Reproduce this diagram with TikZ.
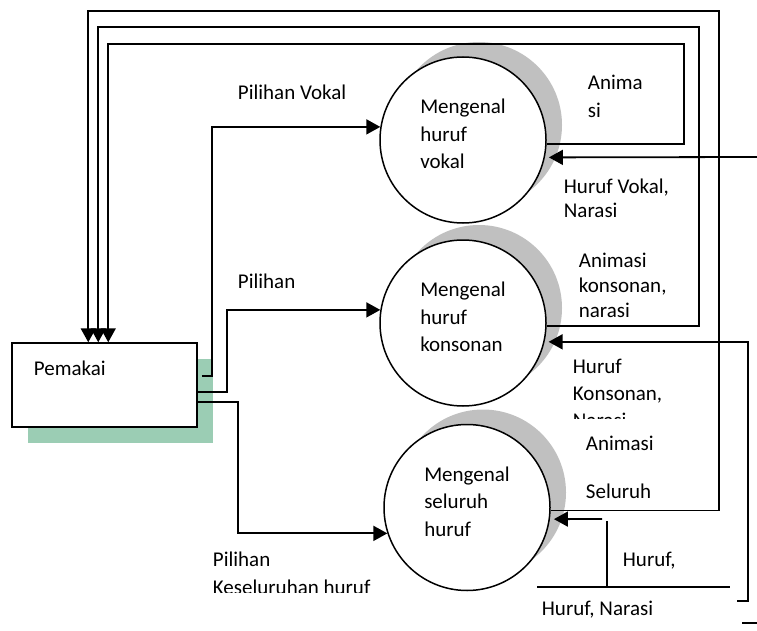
\documentclass[tikz,border=0pt]{standalone}
\usepackage{fontspec}
\setmainfont{Carlito}
\usetikzlibrary{arrows.meta,calc,shadows}
\definecolor{abu}{RGB}{192,192,192}
\definecolor{hijau}{RGB}{155,205,180}
\tikzset{
  entitas/.style={draw, line width=1.5pt, fill=white, minimum width=185pt, minimum height=84pt,
    general shadow={shadow xshift=16pt, shadow yshift=-16pt, fill=hijau, draw=none}},
  proses/.style={circle, draw, line width=1.5pt, fill=white, minimum size=166pt, inner sep=0pt,
    general shadow={shadow xshift=16pt, shadow yshift=15pt, fill=abu, draw=none}},
  teks/.style={font=\fontsize{21}{25}\selectfont, inner sep=0pt, align=left, anchor=base west},
  isi/.style={font=\fontsize{21}{27.5}\selectfont, inner sep=0pt, align=left}
}
\begin{document}
\begin{tikzpicture}[x=1pt, y=-1pt, >={Triangle[length=14pt,width=15pt]}, line width=1.8pt]
\useasboundingbox (0,0) rectangle (757,631);

% entitas luar
\node[entitas] (pemakai) at (104.5,385) {};
\node[teks] (pemakaiLbl) at (33,375) {Pemakai};

% proses
\node[proses] (vokal) at (463,140) {};
\node[proses] (konsonan) at (463,323) {};
\node[proses] (seluruh) at (467,507.5) {};
\node[isi] (vokalIsi) at ([yshift=6pt]vokal.center) {Mengenal\\huruf\\vokal};
\node[isi] (konsonanIsi) at ([yshift=6pt]konsonan.center) {Mengenal\\huruf\\konsonan};
\node[isi] (seluruhIsi) at ([yshift=6pt]seluruh.center) {Mengenal\\seluruh\\huruf};

% animasi kembali ke pemakai
\foreach \c/\a/\xr/\yt/\dx in {vokal/-3/684/44/97, konsonan/-2/699/27/87, seluruh/-2/719/11/77}
{
    \draw[->] (\c.\a) -| (\xr,\yt) -| ($(pemakai.north west)+(\dx,0)$);
}

% pilihan dari pemakai
\draw[->] ($(pemakai.east)+(4,-9)$) -- (212,376) |- (vokal.171);
\draw[->] ($(pemakai.east)+(0,7)$) -- (227,392) |- (konsonan.171);
\draw[->] ($(pemakai.east)+(0,17)$) -- (238,402) |- (seluruh.198);

% masukan huruf dan narasi
\coordinate (masukVokal) at (757,157);
\coordinate (masukKons) at (737,601);
\coordinate (masukSel) at (602,519);
\draw[->, shorten >=4pt] (masukVokal) -- (vokal.-12);
\draw[->, shorten >=4pt] (masukKons) -- (748,601) |- (konsonan.-13);
\draw[->, shorten >=4pt] (masukSel) -- (seluruh.-8);
\draw (607,521) -- (607,587);
\draw (537,587) -- (730,587);
\draw (742,623) -- (757,623);

% label (titik = baris terakhir)
\node[teks] (pilVokal) at (237,100) {Pilihan Vokal};
\node[teks] (pilKons) at (237,288) {Pilihan};
\node[teks] (animVokal) at (587,118) {Anima\\[3pt]si};
\node[teks] (masukVokalLbl) at (563,217) {Huruf Vokal,\\[-1pt]Narasi};
\node[teks] (animKons) at (578,317) {Animasi\\konsonan,\\narasi};
\node[teks] (animSel) at (585,498) {Animasi\\[23pt]Seluruh};
\node[teks] (masukSelLbl) at (622,566) {Huruf,};
\node[teks] (masukSemuaLbl) at (541,615) {Huruf, Narasi};
\begin{scope}
    \clip (560,350) rectangle (700,418);
    \node[teks] (masukKonsLbl) at (572,427) {Huruf\\[2pt]Konsonan,\\[2pt]Narasi};
\end{scope}
\begin{scope}
    \clip (200,540) rectangle (400,592);
    \node[teks] (pilSel) at (212,594) {Pilihan\\[3pt]Keseluruhan huruf};
\end{scope}

\end{tikzpicture}
\end{document}
